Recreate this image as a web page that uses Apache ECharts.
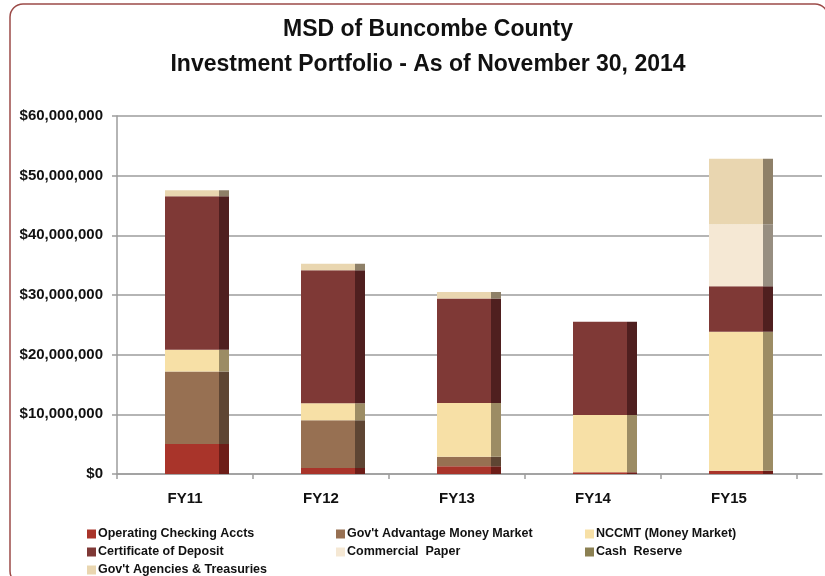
<!DOCTYPE html>
<html>
<head>
<meta charset="utf-8">
<script src="https://cdn.jsdelivr.net/npm/echarts@6/dist/echarts.min.js"></script>
<style>
html, body { margin: 0; padding: 0; background: #fff; }
#charts { width: 825px; height: 576px; }
</style>
</head>
<body>
<div id="charts"></div>
<script>
var years = ['FY11', 'FY12', 'FY13', 'FY14', 'FY15'];

// values in dollars
var operating   = [5040000, 1000000, 1300000, 300000, 550000];
var govAdvantage = [12140000, 8000000, 1600000, 0, 0];
var nccmt       = [3640000, 2850000, 9000000, 9600000, 23300000];
var deposits    = [25740000, 22300000, 17500000, 15600000, 7600000];
var commPaper   = [0, 0, 0, 0, 10400000];
var cashReserve = [0, 0, 0, 0, 0];
var govAgencies = [1000000, 1100000, 1100000, 0, 11000000];

var yTicks = [0, 10000000, 20000000, 30000000, 40000000, 50000000, 60000000];

var font = '"Liberation Sans", Arial, sans-serif';

// front colour, side (3d depth) colour
var seriesDefs = [
	{ name: 'Operating Checking Accts', data: operating, front: '#a9342a', side: '#6d1d18' },
	{ name: "Gov't Advantage Money Market", data: govAdvantage, front: '#977052', side: '#5e4533' },
	{ name: 'NCCMT (Money Market)', data: nccmt, front: '#f7e0a6', side: '#9c8c64' },
	{ name: 'Certificate of Deposit', data: deposits, front: '#7f3936', side: '#4f1f1f' },
	{ name: 'Commercial  Paper', data: commPaper, front: '#f5e8d4', side: '#978e81' },
	{ name: 'Cash  Reserve', data: cashReserve, front: '#8b8052', side: '#5c5536' },
	{ name: "Gov't Agencies & Treasuries", data: govAgencies, front: '#e9d6b0', side: '#8e8068' }
];

function faceColor(front, side){
	return {
		type: 'linear', x: 0, y: 0, x2: 1, y2: 0,
		colorStops: [
			{ offset: 0, color: front },
			{ offset: 0.845, color: front },
			{ offset: 0.845, color: side },
			{ offset: 1, color: side }
		]
	};
}

function legendItem(i){
	return { name: seriesDefs[i].name, itemStyle: { color: seriesDefs[i].front } };
}

function legendCol(left, items){
	return {
		orient: 'vertical',
		left: left,
		top: 522,
		height: 70,
		itemWidth: 9,
		itemHeight: 9,
		itemGap: 4,
		icon: 'rect',
		selectedMode: false,
		textStyle: { fontFamily: font, fontWeight: 'bold', fontSize: 12.5, lineHeight: 14, color: '#111', padding: [0, 0, 0, -3] },
		data: items
	};
}

var series = seriesDefs.map(function(s){
	return {
		name: s.name,
		type: 'bar',
		stack: 'total',
		xAxisIndex: 2,
		yAxisIndex: 2,
		barWidth: 64,
		itemStyle: { color: faceColor(s.front, s.side) },
		data: s.data
	};
});

var option = {
	backgroundColor: '#fff',
	animation: false,
	title: {
		text: 'MSD of Buncombe County\nInvestment Portfolio - As of November 30, 2014',
		left: 428,
		textAlign: 'center',
		top: 12,
		padding: 0,
		textStyle: { fontFamily: font, fontWeight: 'bold', fontSize: 23, color: '#111', lineHeight: 35 }
	},
	graphic: [{
		type: 'rect',
		shape: { x: 10, y: 4, width: 818, height: 580, r: 13 },
		style: { fill: 'none', stroke: '#9c4b48', lineWidth: 1.5 },
		z: 0
	}],
	legend: [
		legendCol(82, [legendItem(0), legendItem(3), legendItem(6)]),
		legendCol(331, [legendItem(1), legendItem(4)]),
		legendCol(580, [legendItem(2), legendItem(5)])
	],
	grid: [
		{ left: 117, right: 3, top: 116, bottom: 102 },
		{ left: 117, right: 28, top: 116, bottom: 102 },
		{ left: 129, right: 16, top: 116, bottom: 102 }
	],
	xAxis: [
		{
			gridIndex: 0, type: 'category', data: years,
			axisLine: { lineStyle: { color: '#9d9d9d', width: 1.5 } },
			axisTick: { show: false }, axisLabel: { show: false }
		},
		{
			gridIndex: 1, type: 'category', data: years,
			axisLine: { show: false },
			axisTick: { show: true, length: 5, lineStyle: { color: '#9d9d9d', width: 1.5 } },
			axisLabel: { margin: 17, fontFamily: font, fontWeight: 'bold', fontSize: 15, color: '#111' }
		},
		{ gridIndex: 2, type: 'category', data: years, show: false }
	],
	yAxis: [
		{
			gridIndex: 0, type: 'value', min: yTicks[0], max: yTicks[yTicks.length - 1], interval: 10000000,
			axisLine: { show: true, lineStyle: { color: '#9d9d9d', width: 1.5 } },
			axisTick: { show: true, length: 5, lineStyle: { color: '#9d9d9d', width: 1.5 } },
			splitLine: { lineStyle: { color: '#9d9d9d', width: 1.5 } },
			axisLabel: {
				margin: 14, fontFamily: font, fontWeight: 'bold', fontSize: 15, color: '#111',
				formatter: function(v){ return '$' + v.toLocaleString('en-US'); }
			}
		},
		{ gridIndex: 1, type: 'value', min: 0, max: 60000000, show: false, splitLine: { show: false } },
		{ gridIndex: 2, type: 'value', min: 0, max: 60000000, show: false, splitLine: { show: false } }
	],
	series: series
};

var myChart = echarts.init(document.getElementById('charts'));
myChart.setOption(option);
</script>
</body>
</html>
